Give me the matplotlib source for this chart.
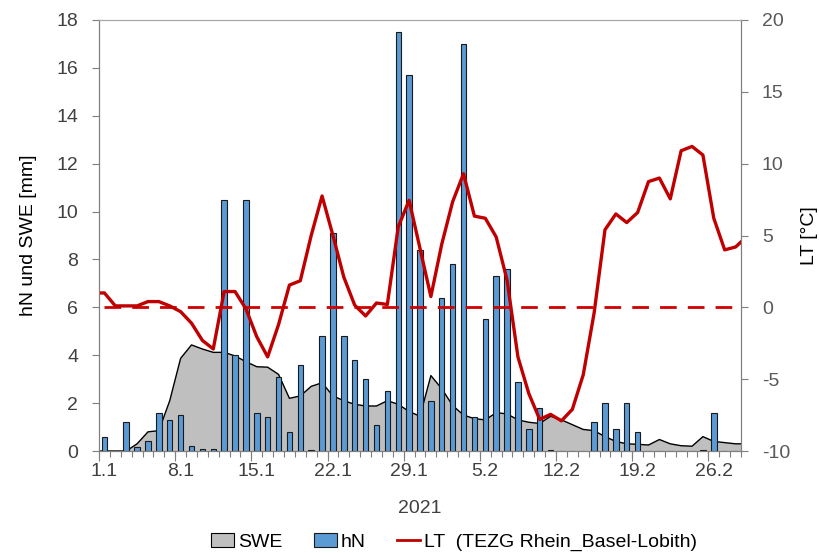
import numpy as np
import matplotlib
matplotlib.use("Agg")
import matplotlib.pyplot as plt
from matplotlib.patches import Patch
from matplotlib.lines import Line2D

plt.rcParams['font.family'] = ['Liberation Sans', 'DejaVu Sans']
plt.rcParams['axes.unicode_minus'] = False

# daily data 1.1.2021 - 28.2.2021
hN = [0.6, 0, 1.2, 0.15, 0.4, 1.6, 1.3, 1.5, 0.2, 0.1, 0.1, 10.5, 4.0, 10.5, 1.6,
      1.4, 3.1, 0.8, 3.6, 0.05, 4.8, 9.1, 4.8, 3.8, 3.0, 1.1, 2.5, 17.5, 15.7, 8.4,
      2.1, 6.4, 7.8, 17.0, 1.4, 5.5, 7.3, 7.6, 2.9, 0.9, 1.8, 0.05, 0, 0, 0,
      1.2, 2.0, 0.9, 2.0, 0.8, 0, 0, 0, 0, 0, 0.05, 1.6, 0, 0]

# SWE and LT include one day before (31.12) and after (1.3), clipped by the axes
swe = [0, 0, 0, 0, 0.3, 0.8, 0.85, 2.1, 3.87, 4.43, 4.26, 4.12, 4.12, 3.97, 3.73,
       3.52, 3.5, 3.2, 2.2, 2.3, 2.7, 2.85, 2.3, 2.1, 1.95, 1.88, 1.88, 2.1, 1.95,
       1.65, 1.45, 3.15, 2.6, 1.9, 1.5, 1.35, 1.3, 1.6, 1.55, 1.3, 1.2, 1.15, 1.45,
       1.3, 1.1, 0.9, 0.85, 0.6, 0.4, 0.3, 0.28, 0.25, 0.48, 0.3, 0.22, 0.2, 0.6,
       0.4, 0.35, 0.3, 0.3]

lt = [1.0, 1.0, 0.1, 0.1, 0.1, 0.4, 0.4, 0.1, -0.3, -1.1, -2.3, -2.9, 1.1, 1.1,
      -0.1, -2.05, -3.45, -1.2, 1.55, 1.85, 5.0, 7.75, 5.0, 2.1, 0.15, -0.6, 0.3,
      0.2, 5.6, 7.45, 4.1, 0.75, 4.4, 7.35, 9.3, 6.35, 6.2, 4.9, 1.9, -3.45, -6.0,
      -7.8, -7.45, -7.9, -7.1, -4.7, -0.4, 5.4, 6.5, 5.9, 6.6, 8.75, 9.0, 7.55,
      10.9, 11.2, 10.6, 6.2, 4.0, 4.2, 4.9]

tick_labels = ['1.1', '8.1', '15.1', '22.1', '29.1', '5.2', '12.2', '19.2', '26.2']

n = len(hN)
x = np.arange(n)
x_ext = np.arange(-1, n + 1)

fig = plt.figure(figsize=(8.19, 5.53), dpi=100)
ax = fig.add_axes([99 / 819, 1 - 451 / 553, 642 / 819, 431 / 553])
ax2 = ax.twinx()

grey = '#7f7f7f'
txt = '#404040'

ax.fill_between(x_ext, swe, 0, facecolor='#bfbfbf', edgecolor='none', zorder=1)
ax.plot(x_ext, swe, color='black', lw=1.0, zorder=2)
ax.bar(x, hN, width=0.5, color='#5b9bd5', edgecolor='#1a1a1a', linewidth=0.8, zorder=3)

ax2.plot(x_ext[1:], np.zeros(n + 1), color='#d00000', lw=2.0, dashes=(6, 4))
ax2.plot(x_ext, lt, color='#c00000', lw=2.4, solid_joinstyle='round')

ax.set_xlim(-0.5, n - 0.5)
ax.set_ylim(0, 18)
ax2.set_ylim(-10, 20)
ax.set_yticks(np.arange(0, 19, 2))
ax2.set_yticks(np.arange(-10, 21, 5))

ax.set_xticks(x[::7])
ax.set_xticklabels(tick_labels)
ax.set_xticks(np.arange(-0.5, n), minor=True)
ax.tick_params(axis='x', which='major', length=0, pad=9, labelsize=14, colors=txt)
ax.tick_params(axis='x', which='minor', length=4, width=0.8, color=grey)
sec = ax.secondary_xaxis('bottom')
sec.set_xticks(x[::7] - 0.5)
sec.tick_params(length=7, width=0.8, color=grey, labelbottom=False)
sec.spines['bottom'].set_visible(False)

ax.tick_params(axis='y', length=5, width=0.8, color=grey, labelsize=14, colors=txt, pad=10)
ax2.tick_params(axis='y', length=5, width=0.8, color=grey, labelsize=14, colors='#595959', pad=10)

for a in (ax, ax2):
    a.spines['top'].set_color('#a6a6a6')
    a.spines['left'].set_color(grey)
    a.spines['right'].set_color(grey)
    a.spines['bottom'].set_color(grey)

ax.set_ylabel('hN und SWE [mm]', fontsize=14, color='black', labelpad=14)
ax2.set_ylabel('LT [°C]', fontsize=14, color='black', labelpad=8)
ax.set_xlabel('2021', fontsize=14, color=txt, labelpad=14)

handles = [Patch(facecolor='#bfbfbf', edgecolor='black', linewidth=0.8),
           Patch(facecolor='#5b9bd5', edgecolor='#1a1a1a', linewidth=0.8),
           Line2D([], [], color='#c00000', lw=2)]
fig.legend(handles, ['SWE', 'hN', 'LT  (TEZG Rhein_Basel-Lobith)'], loc='center',
           bbox_to_anchor=(454 / 819, 1 - 542 / 553), ncol=3, frameon=False,
           fontsize=14, handlelength=1.2, handletextpad=0.2, columnspacing=1.6,
           labelcolor='black')

fig.savefig('out.png', dpi=100)
